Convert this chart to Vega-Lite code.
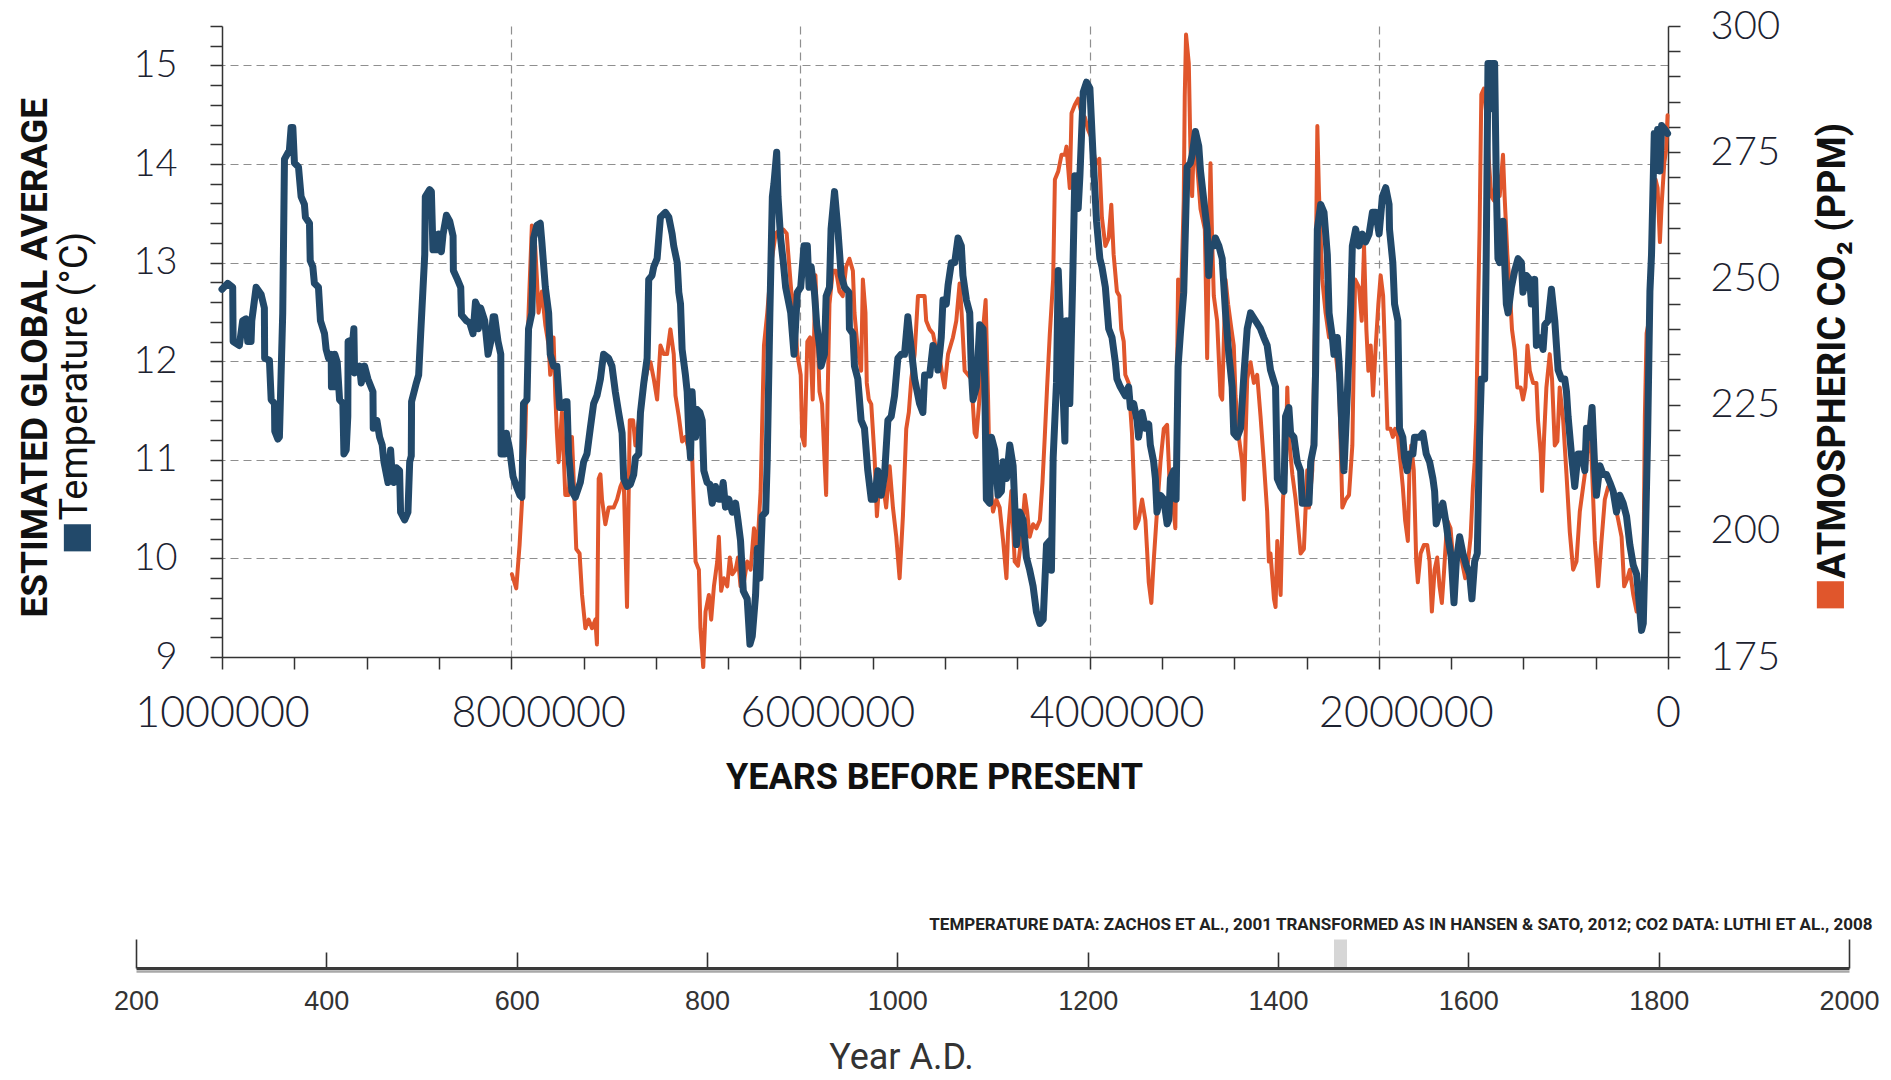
{
"$schema":"https://vega.github.io/schema/vega-lite/v6.json",
"width":1446,"height":631,
"autosize":{"type":"none"},
"padding":{"left":222,"top":26,"right":223,"bottom":423},
"background":"white",
"config":{"view":{"stroke":null}},
"datasets":{
"temp":[
{"ybp":1000000,"temp":12.73},{"ybp":996100,"temp":12.79},{"ybp":992600,"temp":12.75},{"ybp":992300,"temp":12.2},{"ybp":988000,"temp":12.16},{"ybp":985700,"temp":12.41},{"ybp":983400,"temp":12.43},{"ybp":982200,"temp":12.2},{"ybp":979900,"temp":12.2},{"ybp":979400,"temp":12.41},{"ybp":976400,"temp":12.75},{"ybp":973000,"temp":12.68},{"ybp":970700,"temp":12.54},{"ybp":970500,"temp":12.03},{"ybp":967200,"temp":12.01},{"ybp":966000,"temp":11.61},{"ybp":963700,"temp":11.57},{"ybp":963500,"temp":11.29},{"ybp":961400,"temp":11.21},{"ybp":960300,"temp":11.23},{"ybp":958000,"temp":12.49},{"ybp":956800,"temp":14.05},{"ybp":953400,"temp":14.14},{"ybp":952200,"temp":14.37},{"ybp":951000,"temp":14.37},{"ybp":949900,"temp":14.01},{"ybp":947100,"temp":13.97},{"ybp":945300,"temp":13.67},{"ybp":943000,"temp":13.59},{"ybp":942300,"temp":13.46},{"ybp":939500,"temp":13.4},{"ybp":939000,"temp":13.02},{"ybp":937200,"temp":12.96},{"ybp":936100,"temp":12.79},{"ybp":933300,"temp":12.75},{"ybp":931900,"temp":12.41},{"ybp":929100,"temp":12.28},{"ybp":928000,"temp":12.12},{"ybp":926300,"temp":12.03},{"ybp":924500,"temp":12.07},{"ybp":924300,"temp":11.74},{"ybp":922200,"temp":11.74},{"ybp":922000,"temp":12.07},{"ybp":920300,"temp":11.99},{"ybp":918700,"temp":11.61},{"ybp":916400,"temp":11.57},{"ybp":915700,"temp":11.06},{"ybp":914100,"temp":11.1},{"ybp":913000,"temp":11.44},{"ybp":912800,"temp":12.2},{"ybp":909500,"temp":12.22},{"ybp":908800,"temp":12.33},{"ybp":908300,"temp":11.88},{"ybp":904900,"temp":11.95},{"ybp":903700,"temp":11.78},{"ybp":901400,"temp":11.95},{"ybp":899100,"temp":11.82},{"ybp":895600,"temp":11.69},{"ybp":895400,"temp":11.32},{"ybp":892900,"temp":11.4},{"ybp":891000,"temp":11.23},{"ybp":889200,"temp":11.15},{"ybp":888000,"temp":10.98},{"ybp":885200,"temp":10.77},{"ybp":883400,"temp":11.1},{"ybp":882500,"temp":10.89},{"ybp":881100,"temp":10.77},{"ybp":879500,"temp":10.92},{"ybp":877200,"temp":10.89},{"ybp":876500,"temp":10.47},{"ybp":873700,"temp":10.39},{"ybp":871400,"temp":10.47},{"ybp":870200,"temp":10.98},{"ybp":869100,"temp":11.04},{"ybp":868900,"temp":11.59},{"ybp":865600,"temp":11.78},{"ybp":864000,"temp":11.86},{"ybp":862600,"temp":12.28},{"ybp":859800,"temp":13.08},{"ybp":859400,"temp":13.67},{"ybp":856400,"temp":13.74},{"ybp":855200,"temp":13.72},{"ybp":854100,"temp":13.13},{"ybp":850600,"temp":13.13},{"ybp":850100,"temp":13.29},{"ybp":848300,"temp":13.11},{"ybp":847100,"temp":13.29},{"ybp":844800,"temp":13.48},{"ybp":842500,"temp":13.42},{"ybp":840200,"temp":13.27},{"ybp":840000,"temp":12.92},{"ybp":837200,"temp":12.83},{"ybp":834900,"temp":12.75},{"ybp":834400,"temp":12.47},{"ybp":831000,"temp":12.41},{"ybp":828700,"temp":12.39},{"ybp":826400,"temp":12.28},{"ybp":824700,"temp":12.6},{"ybp":822900,"temp":12.54},{"ybp":822700,"temp":12.33},{"ybp":821100,"temp":12.54},{"ybp":818300,"temp":12.41},{"ybp":816000,"temp":12.07},{"ybp":814100,"temp":12.2},{"ybp":812500,"temp":12.45},{"ybp":811400,"temp":12.45},{"ybp":809100,"temp":12.2},{"ybp":807200,"temp":12.07},{"ybp":807000,"temp":11.06},{"ybp":804400,"temp":11.06},{"ybp":803300,"temp":11.27},{"ybp":801000,"temp":11.1},{"ybp":798700,"temp":10.83},{"ybp":796400,"temp":10.73},{"ybp":794000,"temp":10.64},
{"ybp":792600,"temp":10.62},{"ybp":791500,"temp":11.57},{"ybp":789100,"temp":11.61},{"ybp":788000,"temp":12.33},{"ybp":785700,"temp":12.49},{"ybp":784500,"temp":13.25},{"ybp":782200,"temp":13.38},{"ybp":779900,"temp":13.4},{"ybp":778800,"temp":13.21},{"ybp":776400,"temp":12.75},{"ybp":774100,"temp":12.49},{"ybp":773000,"temp":12.07},{"ybp":770700,"temp":11.95},{"ybp":768400,"temp":11.95},{"ybp":766500,"temp":11.53},{"ybp":763700,"temp":11.53},{"ybp":762600,"temp":11.59},{"ybp":761400,"temp":11.59},{"ybp":760300,"temp":11.06},{"ybp":758000,"temp":10.68},{"ybp":755700,"temp":10.62},{"ybp":752200,"temp":10.77},{"ybp":749900,"temp":10.98},{"ybp":747600,"temp":11.06},{"ybp":745300,"temp":11.32},{"ybp":743000,"temp":11.57},{"ybp":740700,"temp":11.65},{"ybp":738300,"temp":11.82},{"ybp":737200,"temp":11.95},{"ybp":736100,"temp":12.07},{"ybp":732600,"temp":12.03},{"ybp":730300,"temp":11.95},{"ybp":728000,"temp":11.69},{"ybp":725700,"temp":11.48},{"ybp":723300,"temp":11.27},{"ybp":722200,"temp":10.81},{"ybp":719900,"temp":10.73},{"ybp":717600,"temp":10.75},{"ybp":715300,"temp":10.85},{"ybp":714100,"temp":11.02},{"ybp":711800,"temp":11.06},{"ybp":710600,"temp":11.48},{"ybp":708300,"temp":11.78},{"ybp":706000,"temp":12.03},{"ybp":704900,"temp":12.83},{"ybp":702600,"temp":12.87},{"ybp":701400,"temp":12.96},{"ybp":699100,"temp":13.04},{"ybp":696800,"temp":13.46},{"ybp":693300,"temp":13.51},{"ybp":691000,"temp":13.46},{"ybp":688700,"temp":13.29},{"ybp":687600,"temp":13.17},{"ybp":685200,"temp":13.0},{"ybp":684100,"temp":12.7},{"ybp":682900,"temp":12.58},{"ybp":681800,"temp":12.12},{"ybp":679500,"temp":11.86},{"ybp":678300,"temp":11.69},{"ybp":677200,"temp":11.27},{"ybp":676000,"temp":11.02},{"ybp":674900,"temp":11.69},{"ybp":673700,"temp":11.36},{"ybp":672500,"temp":11.23},{"ybp":671400,"temp":11.51},{"ybp":669500,"temp":11.48},{"ybp":667900,"temp":11.4},{"ybp":666800,"temp":10.89},{"ybp":664500,"temp":10.77},{"ybp":662600,"temp":10.75},{"ybp":661000,"temp":10.56},{"ybp":658700,"temp":10.73},{"ybp":656400,"temp":10.6},{"ybp":655200,"temp":10.6},{"ybp":653400,"temp":10.77},{"ybp":651800,"temp":10.52},{"ybp":649500,"temp":10.6},{"ybp":647100,"temp":10.47},{"ybp":644800,"temp":10.56},{"ybp":643200,"temp":10.39},{"ybp":641400,"temp":10.18},{"ybp":639500,"temp":9.67},{"ybp":636800,"temp":9.59},{"ybp":634900,"temp":9.13},{"ybp":633300,"temp":9.21},{"ybp":631000,"temp":9.63},{"ybp":629800,"temp":10.1},{"ybp":628000,"temp":9.8},{"ybp":626400,"temp":10.43},{"ybp":624000,"temp":10.47},{"ybp":622900,"temp":11.02},{"ybp":621100,"temp":12.49},{"ybp":619400,"temp":13.67},{"ybp":618300,"temp":13.8},{"ybp":616400,"temp":14.12},{"ybp":615500,"temp":13.67},{"ybp":613700,"temp":13.25},{"ybp":611800,"temp":13.0},{"ybp":610200,"temp":12.75},{"ybp":606700,"temp":12.49},{"ybp":604400,"temp":12.07},{"ybp":602100,"temp":12.7},{"ybp":599800,"temp":12.75},{"ybp":597500,"temp":13.17},{"ybp":595200,"temp":13.17},{"ybp":594000,"temp":12.75},
{"ybp":592600,"temp":12.96},{"ybp":590300,"temp":12.7},{"ybp":588700,"temp":12.37},{"ybp":586800,"temp":12.16},{"ybp":585700,"temp":11.95},{"ybp":583400,"temp":12.07},{"ybp":582200,"temp":12.66},{"ybp":579900,"temp":12.75},{"ybp":578800,"temp":13.34},{"ybp":576400,"temp":13.72},{"ybp":574100,"temp":13.34},{"ybp":571800,"temp":12.87},{"ybp":569500,"temp":12.75},{"ybp":566500,"temp":12.7},{"ybp":566100,"temp":12.33},{"ybp":563700,"temp":12.28},{"ybp":562600,"temp":11.95},{"ybp":560300,"temp":11.82},{"ybp":558000,"temp":11.4},{"ybp":555700,"temp":11.32},{"ybp":553400,"temp":10.89},{"ybp":551000,"temp":10.6},{"ybp":548700,"temp":10.6},{"ybp":546400,"temp":10.89},{"ybp":544100,"temp":10.64},{"ybp":541800,"temp":10.85},{"ybp":539500,"temp":11.4},{"ybp":537200,"temp":11.44},{"ybp":534900,"temp":11.65},{"ybp":532600,"temp":12.03},{"ybp":530300,"temp":12.07},{"ybp":528000,"temp":12.07},{"ybp":525700,"temp":12.45},{"ybp":523300,"temp":12.12},{"ybp":521000,"temp":11.82},{"ybp":517600,"temp":11.57},{"ybp":515300,"temp":11.48},{"ybp":514100,"temp":11.86},{"ybp":510600,"temp":11.86},{"ybp":508300,"temp":12.16},{"ybp":506000,"temp":12.07},{"ybp":504900,"temp":11.91},{"ybp":502600,"temp":12.24},{"ybp":501400,"temp":12.62},{"ybp":499100,"temp":12.58},{"ybp":497900,"temp":12.77},{"ybp":495600,"temp":13.0},{"ybp":493300,"temp":13.0},{"ybp":491000,"temp":13.25},{"ybp":488700,"temp":13.17},{"ybp":487600,"temp":12.87},{"ybp":485200,"temp":12.62},{"ybp":482900,"temp":12.49},{"ybp":481800,"temp":11.91},{"ybp":480600,"temp":11.61},{"ybp":478300,"temp":11.74},{"ybp":476000,"temp":12.37},{"ybp":473700,"temp":12.33},{"ybp":472500,"temp":11.78},{"ybp":471400,"temp":10.6},{"ybp":469100,"temp":10.56},{"ybp":467900,"temp":11.23},{"ybp":465600,"temp":11.1},{"ybp":463300,"temp":10.64},{"ybp":461000,"temp":10.68},{"ybp":459800,"temp":10.98},{"ybp":457500,"temp":10.81},{"ybp":455200,"temp":11.15},{"ybp":452900,"temp":10.94},{"ybp":450600,"temp":10.14},{"ybp":448300,"temp":10.47},{"ybp":446000,"temp":10.39},{"ybp":443700,"temp":10.01},{"ybp":441400,"temp":9.88},{"ybp":439100,"temp":9.72},{"ybp":436800,"temp":9.46},{"ybp":434400,"temp":9.34},{"ybp":432100,"temp":9.38},{"ybp":429800,"temp":10.14},{"ybp":427500,"temp":10.18},{"ybp":426400,"temp":9.88},{"ybp":425200,"temp":11.02},{"ybp":422900,"temp":11.78},{"ybp":421700,"temp":12.92},{"ybp":419400,"temp":12.07},{"ybp":417100,"temp":11.19},{"ybp":416000,"temp":12.41},{"ybp":413700,"temp":11.57},{"ybp":411800,"temp":12.75},{"ybp":410200,"temp":13.88},{"ybp":407900,"temp":13.55},{"ybp":406700,"temp":13.88},{"ybp":404400,"temp":14.73},{"ybp":402100,"temp":14.83},{"ybp":399800,"temp":14.77},{"ybp":397500,"temp":14.05},{"ybp":395200,"temp":13.42},{"ybp":392900,"temp":13.04},
{"ybp":391500,"temp":12.96},{"ybp":389100,"temp":12.75},{"ybp":386800,"temp":12.33},{"ybp":384500,"temp":12.24},{"ybp":382200,"temp":11.99},{"ybp":381100,"temp":11.82},{"ybp":378800,"temp":11.74},{"ybp":375300,"temp":11.65},{"ybp":373000,"temp":11.74},{"ybp":371800,"temp":11.53},{"ybp":369500,"temp":11.57},{"ybp":367200,"temp":11.4},{"ybp":366100,"temp":11.23},{"ybp":363700,"temp":11.48},{"ybp":361400,"temp":11.32},{"ybp":359100,"temp":11.36},{"ybp":358000,"temp":11.15},{"ybp":355700,"temp":10.98},{"ybp":354500,"temp":10.81},{"ybp":353400,"temp":10.47},{"ybp":351000,"temp":10.64},{"ybp":348700,"temp":10.6},{"ybp":346400,"temp":10.35},{"ybp":345300,"temp":10.39},{"ybp":344100,"temp":10.81},{"ybp":341800,"temp":10.89},{"ybp":340200,"temp":10.6},{"ybp":338800,"temp":11.95},{"ybp":337200,"temp":12.28},{"ybp":334900,"temp":12.7},{"ybp":332600,"temp":13.97},{"ybp":330300,"temp":14.01},{"ybp":329100,"temp":14.09},{"ybp":326800,"temp":14.33},{"ybp":324500,"temp":14.18},{"ybp":323300,"temp":13.93},{"ybp":321000,"temp":13.63},{"ybp":318700,"temp":13.34},{"ybp":317600,"temp":12.87},{"ybp":316400,"temp":13.17},{"ybp":314100,"temp":13.17},{"ybp":313000,"temp":13.25},{"ybp":310600,"temp":13.17},{"ybp":308300,"temp":13.04},{"ybp":306000,"temp":12.49},{"ybp":303700,"temp":12.07},{"ybp":301400,"temp":11.74},{"ybp":300300,"temp":11.27},{"ybp":297900,"temp":11.23},{"ybp":295600,"temp":11.32},{"ybp":293300,"temp":11.86},{"ybp":291000,"temp":12.33},{"ybp":288700,"temp":12.49},{"ybp":285200,"temp":12.41},{"ybp":281800,"temp":12.33},{"ybp":279500,"temp":12.24},{"ybp":277200,"temp":12.16},{"ybp":274900,"temp":11.91},{"ybp":271400,"temp":11.74},{"ybp":270200,"temp":10.81},{"ybp":267900,"temp":10.73},{"ybp":265600,"temp":10.68},{"ybp":264500,"temp":11.44},{"ybp":262200,"temp":11.53},{"ybp":261000,"temp":11.27},{"ybp":258700,"temp":11.23},{"ybp":256400,"temp":10.98},{"ybp":254100,"temp":10.89},{"ybp":252900,"temp":10.56},{"ybp":250600,"temp":10.56},{"ybp":248300,"temp":10.56},{"ybp":247100,"temp":10.98},{"ybp":244800,"temp":11.15},{"ybp":243700,"temp":11.91},{"ybp":242500,"temp":13.34},{"ybp":240200,"temp":13.59},{"ybp":237900,"temp":13.51},{"ybp":235600,"temp":13.08},{"ybp":234400,"temp":12.49},{"ybp":232100,"temp":12.24},{"ybp":231000,"temp":12.07},{"ybp":228700,"temp":12.24},{"ybp":227500,"temp":11.99},{"ybp":225200,"temp":11.23},{"ybp":224100,"temp":10.89},{"ybp":221700,"temp":11.69},{"ybp":219400,"temp":12.58},{"ybp":218300,"temp":13.17},{"ybp":216000,"temp":13.34},{"ybp":213700,"temp":13.17},{"ybp":211400,"temp":13.29},{"ybp":209100,"temp":13.21},{"ybp":206700,"temp":13.29},{"ybp":204400,"temp":13.51},{"ybp":202100,"temp":13.51},{"ybp":199800,"temp":13.29},{"ybp":197500,"temp":13.67},{"ybp":195200,"temp":13.76},{"ybp":192900,"temp":13.59},
{"ybp":192600,"temp":13.34},{"ybp":190300,"temp":13.0},{"ybp":189100,"temp":12.58},{"ybp":186800,"temp":12.41},{"ybp":185700,"temp":11.32},{"ybp":183400,"temp":11.23},{"ybp":182200,"temp":11.02},{"ybp":180400,"temp":10.89},{"ybp":178800,"temp":11.06},{"ybp":176400,"temp":11.06},{"ybp":175300,"temp":11.23},{"ybp":171800,"temp":11.23},{"ybp":169500,"temp":11.27},{"ybp":167200,"temp":11.06},{"ybp":164900,"temp":10.98},{"ybp":162600,"temp":10.81},{"ybp":161400,"temp":10.68},{"ybp":160300,"temp":10.35},{"ybp":158000,"temp":10.47},{"ybp":155700,"temp":10.56},{"ybp":153400,"temp":10.35},{"ybp":152200,"temp":10.22},{"ybp":149900,"temp":10.01},{"ybp":148000,"temp":9.55},{"ybp":146400,"temp":9.97},{"ybp":144100,"temp":10.22},{"ybp":141800,"temp":10.05},{"ybp":139500,"temp":9.93},{"ybp":137200,"temp":9.84},{"ybp":135600,"temp":9.59},{"ybp":133700,"temp":9.97},{"ybp":131900,"temp":10.05},{"ybp":130300,"temp":11.23},{"ybp":129100,"temp":11.82},{"ybp":126800,"temp":11.82},{"ybp":125700,"temp":13.08},{"ybp":124500,"temp":15.02},{"ybp":122200,"temp":15.02},{"ybp":121000,"temp":14.56},{"ybp":119900,"temp":15.02},{"ybp":118700,"temp":13.76},{"ybp":117600,"temp":13.04},{"ybp":116400,"temp":13.0},{"ybp":114100,"temp":13.42},{"ybp":111800,"temp":12.58},{"ybp":110600,"temp":12.49},{"ybp":108300,"temp":12.75},{"ybp":106000,"temp":12.92},{"ybp":103700,"temp":13.04},{"ybp":101400,"temp":13.0},{"ybp":100300,"temp":12.7},{"ybp":97900,"temp":12.87},{"ybp":95600,"temp":12.83},{"ybp":94500,"temp":12.58},{"ybp":92200,"temp":12.83},{"ybp":91000,"temp":12.16},{"ybp":88700,"temp":12.24},{"ybp":86400,"temp":12.12},{"ybp":85200,"temp":12.37},{"ybp":82900,"temp":12.41},{"ybp":80600,"temp":12.73},{"ybp":78300,"temp":12.41},{"ybp":76000,"temp":11.91},{"ybp":73700,"temp":11.82},{"ybp":71400,"temp":11.82},{"ybp":70200,"temp":11.69},{"ybp":69100,"temp":11.44},{"ybp":66800,"temp":11.06},{"ybp":64500,"temp":10.73},{"ybp":62200,"temp":11.06},{"ybp":59800,"temp":11.06},{"ybp":57500,"temp":10.89},{"ybp":56400,"temp":11.32},{"ybp":54100,"temp":11.23},{"ybp":52500,"temp":11.53},{"ybp":50600,"temp":10.89},{"ybp":49500,"temp":10.64},{"ybp":47100,"temp":10.94},{"ybp":44800,"temp":10.85},{"ybp":42500,"temp":10.85},{"ybp":40200,"temp":10.77},{"ybp":37900,"temp":10.68},{"ybp":35600,"temp":10.47},{"ybp":33300,"temp":10.64},{"ybp":31000,"temp":10.56},{"ybp":28700,"temp":10.43},{"ybp":26400,"temp":10.14},{"ybp":24000,"temp":9.93},{"ybp":21700,"temp":9.84},{"ybp":19400,"temp":9.46},{"ybp":18300,"temp":9.27},{"ybp":17100,"temp":9.34},{"ybp":16000,"temp":9.97},{"ybp":14100,"temp":11.23},{"ybp":12500,"temp":12.71},{"ybp":11400,"temp":13.08},{"ybp":9500,"temp":14.31},{"ybp":8600,"temp":13.93},{"ybp":7200,"temp":14.35},{"ybp":5600,"temp":13.93},{"ybp":4400,"temp":14.39},{"ybp":2100,"temp":14.35},{"ybp":300,"temp":14.31}
],
"co2":[
{"ybp":799500,"co2":191.4},{"ybp":796500,"co2":188.6},{"ybp":794200,"co2":197.2},{"ybp":792600,"co2":205.4},{"ybp":790300,"co2":218.6},{"ybp":788000,"co2":243.2},{"ybp":785700,"co2":260.5},{"ybp":783400,"co2":256.4},{"ybp":782200,"co2":249.8},{"ybp":781100,"co2":243.2},{"ybp":778800,"co2":247.4},{"ybp":776400,"co2":240.8},{"ybp":774100,"co2":236.7},{"ybp":773000,"co2":230.9},{"ybp":770700,"co2":238.3},{"ybp":769500,"co2":226.8},{"ybp":768400,"co2":219.4},{"ybp":767200,"co2":213.6},{"ybp":764900,"co2":223.5},{"ybp":762600,"co2":207.1},{"ybp":760300,"co2":207.1},{"ybp":758000,"co2":218.6},{"ybp":756800,"co2":210.3},{"ybp":755000,"co2":196.4},{"ybp":752700,"co2":195.5},{"ybp":751000,"co2":187.3},{"ybp":748700,"co2":180.7},{"ybp":746400,"co2":182.4},{"ybp":744100,"co2":180.7},{"ybp":741800,"co2":182.4},{"ybp":740700,"co2":177.5},{"ybp":739500,"co2":210.3},{"ybp":738300,"co2":211.2},{"ybp":737200,"co2":206.2},{"ybp":734900,"co2":201.3},{"ybp":732600,"co2":204.6},{"ybp":729100,"co2":204.6},{"ybp":726800,"co2":206.2},{"ybp":724500,"co2":208.7},{"ybp":722200,"co2":210.3},{"ybp":719900,"co2":184.9},{"ybp":718000,"co2":221.9},{"ybp":715700,"co2":221.9},{"ybp":714100,"co2":216.9},{"ybp":710600,"co2":224.3},{"ybp":708300,"co2":228.4},{"ybp":706000,"co2":231.7},{"ybp":703700,"co2":233.4},{"ybp":701400,"co2":230.1},{"ybp":699100,"co2":226.0},{"ybp":696800,"co2":236.7},{"ybp":694500,"co2":235.0},{"ybp":692200,"co2":235.0},{"ybp":689900,"co2":239.9},{"ybp":687600,"co2":235.0},{"ybp":686400,"co2":226.8},{"ybp":684100,"co2":222.7},{"ybp":681800,"co2":217.7},{"ybp":679500,"co2":218.6},{"ybp":677200,"co2":216.1},{"ybp":674900,"co2":215.3},{"ybp":672500,"co2":193.9},{"ybp":670200,"co2":192.3},{"ybp":669100,"co2":180.7},{"ybp":667200,"co2":173.0},{"ybp":665600,"co2":184.0},{"ybp":663300,"co2":187.3},{"ybp":661700,"co2":182.4},{"ybp":659800,"co2":189.0},{"ybp":657500,"co2":193.9},{"ybp":656400,"co2":198.8},{"ybp":654800,"co2":188.1},{"ybp":652900,"co2":190.6},{"ybp":650600,"co2":189.0},{"ybp":648800,"co2":194.7},{"ybp":647100,"co2":191.4},{"ybp":644800,"co2":192.3},{"ybp":643200,"co2":194.7},{"ybp":641400,"co2":189.0},{"ybp":639100,"co2":189.8},{"ybp":636800,"co2":193.9},{"ybp":634400,"co2":192.3},{"ybp":632100,"co2":200.5},{"ybp":629800,"co2":196.4},{"ybp":627500,"co2":207.9},{"ybp":625200,"co2":236.7},{"ybp":622900,"co2":243.2},{"ybp":620100,"co2":253.1},{"ybp":617100,"co2":258.9},{"ybp":614100,"co2":259.7},{"ybp":611800,"co2":259.7},{"ybp":609500,"co2":258.9},{"ybp":607900,"co2":253.1},{"ybp":606300,"co2":247.4},{"ybp":604400,"co2":244.9},{"ybp":602100,"co2":235.0},{"ybp":599800,"co2":230.9},{"ybp":598700,"co2":218.6},{"ybp":597100,"co2":216.9},{"ybp":595200,"co2":237.5},{"ybp":593300,"co2":238.3},
{"ybp":591500,"co2":226.0},{"ybp":589600,"co2":250.6},{"ybp":588000,"co2":237.5},{"ybp":586800,"co2":227.6},{"ybp":585000,"co2":225.1},{"ybp":583400,"co2":214.5},{"ybp":582200,"co2":207.1},{"ybp":581100,"co2":227.6},{"ybp":579900,"co2":244.9},{"ybp":577600,"co2":251.5},{"ybp":575300,"co2":251.5},{"ybp":573000,"co2":247.4},{"ybp":570700,"co2":246.5},{"ybp":568400,"co2":252.3},{"ybp":566100,"co2":253.9},{"ybp":563700,"co2":251.5},{"ybp":562600,"co2":243.2},{"ybp":560300,"co2":235.8},{"ybp":558000,"co2":231.7},{"ybp":556800,"co2":249.8},{"ybp":555000,"co2":243.2},{"ybp":554100,"co2":229.3},{"ybp":552700,"co2":226.0},{"ybp":551000,"co2":225.1},{"ybp":548700,"co2":214.5},{"ybp":547100,"co2":202.9},{"ybp":545300,"co2":210.3},{"ybp":543000,"co2":209.5},{"ybp":540700,"co2":204.6},{"ybp":538300,"co2":212.8},{"ybp":536000,"co2":204.6},{"ybp":533700,"co2":198.8},{"ybp":531400,"co2":190.6},{"ybp":529100,"co2":202.9},{"ybp":526800,"co2":220.2},{"ybp":525000,"co2":223.5},{"ybp":523300,"co2":230.1},{"ybp":521000,"co2":235.0},{"ybp":518700,"co2":246.5},{"ybp":516400,"co2":246.5},{"ybp":514100,"co2":246.5},{"ybp":513000,"co2":241.6},{"ybp":510600,"co2":239.9},{"ybp":508300,"co2":239.1},{"ybp":506000,"co2":235.8},{"ybp":503700,"co2":234.2},{"ybp":501400,"co2":230.1},{"ybp":500300,"co2":228.4},{"ybp":497900,"co2":235.0},{"ybp":494500,"co2":238.3},{"ybp":492200,"co2":241.6},{"ybp":489900,"co2":249.0},{"ybp":488700,"co2":244.1},{"ybp":487600,"co2":238.3},{"ybp":486400,"co2":231.7},{"ybp":484100,"co2":230.9},{"ybp":481800,"co2":230.1},{"ybp":479500,"co2":219.4},{"ybp":478300,"co2":218.6},{"ybp":476000,"co2":226.8},{"ybp":473700,"co2":239.9},{"ybp":471900,"co2":245.7},{"ybp":470200,"co2":226.0},{"ybp":469100,"co2":210.3},{"ybp":466800,"co2":203.8},{"ybp":464500,"co2":206.2},{"ybp":462200,"co2":204.6},{"ybp":459800,"co2":198.0},{"ybp":457500,"co2":190.6},{"ybp":456400,"co2":199.7},{"ybp":454100,"co2":207.9},{"ybp":451800,"co2":193.9},{"ybp":449500,"co2":193.1},{"ybp":447100,"co2":198.8},{"ybp":444800,"co2":207.1},{"ybp":443200,"co2":203.8},{"ybp":441400,"co2":198.8},{"ybp":439100,"co2":201.3},{"ybp":436800,"co2":200.5},{"ybp":434400,"co2":202.1},{"ybp":432600,"co2":209.5},{"ybp":431000,"co2":218.6},{"ybp":429400,"co2":228.4},{"ybp":427500,"co2":239.1},{"ybp":425200,"co2":249.8},{"ybp":424000,"co2":269.6},{"ybp":421700,"co2":271.2},{"ybp":419400,"co2":274.5},{"ybp":417100,"co2":274.5},{"ybp":416000,"co2":276.1},{"ybp":413700,"co2":267.9},{"ybp":412500,"co2":282.7},{"ybp":410200,"co2":284.4},{"ybp":407900,"co2":285.6},{"ybp":405600,"co2":282.7},{"ybp":403300,"co2":281.9},{"ybp":401000,"co2":279.4},{"ybp":398700,"co2":277.8},{"ybp":396400,"co2":273.7},{"ybp":394100,"co2":272.8},
{"ybp":393300,"co2":273.7},{"ybp":391500,"co2":262.1},{"ybp":389100,"co2":256.4},{"ybp":386800,"co2":258.0},{"ybp":385000,"co2":264.6},{"ybp":383400,"co2":254.8},{"ybp":381100,"co2":247.4},{"ybp":379400,"co2":246.5},{"ybp":378100,"co2":239.9},{"ybp":376400,"co2":237.5},{"ybp":375300,"co2":230.9},{"ybp":373000,"co2":229.3},{"ybp":370700,"co2":219.4},{"ybp":369500,"co2":210.3},{"ybp":368400,"co2":200.5},{"ybp":366100,"co2":202.1},{"ybp":363700,"co2":206.2},{"ybp":361400,"co2":202.1},{"ybp":360300,"co2":196.4},{"ybp":359100,"co2":189.8},{"ybp":357300,"co2":185.7},{"ybp":355700,"co2":193.9},{"ybp":353400,"co2":203.8},{"ybp":351000,"co2":213.6},{"ybp":348700,"co2":220.2},{"ybp":346400,"co2":221.0},{"ybp":344800,"co2":210.3},{"ybp":342500,"co2":206.2},{"ybp":340700,"co2":200.5},{"ybp":338800,"co2":249.8},{"ybp":337200,"co2":241.6},{"ybp":334900,"co2":265.4},{"ybp":334200,"co2":286.0},{"ybp":333300,"co2":298.3},{"ybp":331400,"co2":292.6},{"ybp":330300,"co2":276.1},{"ybp":329100,"co2":266.3},{"ybp":328000,"co2":276.1},{"ybp":325700,"co2":272.8},{"ybp":323300,"co2":263.8},{"ybp":320300,"co2":259.7},{"ybp":318700,"co2":234.2},{"ybp":317600,"co2":254.8},{"ybp":316400,"co2":272.8},{"ybp":315300,"co2":258.0},{"ybp":314100,"co2":246.5},{"ybp":311800,"co2":241.6},{"ybp":309500,"co2":226.8},{"ybp":308300,"co2":226.0},{"ybp":306000,"co2":249.8},{"ybp":304200,"co2":244.9},{"ybp":301900,"co2":239.9},{"ybp":300300,"co2":236.7},{"ybp":299100,"co2":226.8},{"ybp":296800,"co2":218.6},{"ybp":294500,"co2":213.6},{"ybp":293300,"co2":206.2},{"ybp":291000,"co2":230.1},{"ybp":288700,"co2":233.4},{"ybp":286400,"co2":229.3},{"ybp":284100,"co2":230.9},{"ybp":281800,"co2":222.7},{"ybp":279500,"co2":213.6},{"ybp":277200,"co2":203.8},{"ybp":276000,"co2":193.9},{"ybp":274900,"co2":195.5},{"ybp":272500,"co2":186.5},{"ybp":271400,"co2":184.9},{"ybp":270200,"co2":198.0},{"ybp":267900,"co2":187.3},{"ybp":266300,"co2":206.2},{"ybp":264500,"co2":212.0},{"ybp":263300,"co2":228.4},{"ybp":262200,"co2":218.6},{"ybp":259800,"co2":211.2},{"ybp":257500,"co2":206.2},{"ybp":254100,"co2":195.5},{"ybp":251800,"co2":196.4},{"ybp":249500,"co2":212.0},{"ybp":248300,"co2":204.6},{"ybp":246000,"co2":212.0},{"ybp":243700,"co2":248.2},{"ybp":242500,"co2":280.2},{"ybp":241400,"co2":267.1},{"ybp":239100,"co2":249.8},{"ybp":236800,"co2":243.2},{"ybp":234400,"co2":238.3},{"ybp":232100,"co2":238.3},{"ybp":229800,"co2":235.0},{"ybp":227500,"co2":229.3},{"ybp":225200,"co2":204.6},{"ybp":222900,"co2":206.2},{"ybp":220600,"co2":207.1},{"ybp":218300,"co2":216.9},{"ybp":216400,"co2":249.8},{"ybp":213700,"co2":248.2},{"ybp":211800,"co2":241.6},{"ybp":210200,"co2":256.4},{"ybp":208600,"co2":239.9},{"ybp":207200,"co2":231.7},{"ybp":205600,"co2":236.7},{"ybp":204000,"co2":226.8},{"ybp":202100,"co2":236.7},{"ybp":200300,"co2":244.9},{"ybp":198700,"co2":250.6},{"ybp":197000,"co2":246.5},{"ybp":195200,"co2":230.9},{"ybp":194000,"co2":220.2},
{"ybp":191900,"co2":220.2},{"ybp":190300,"co2":218.6},{"ybp":188700,"co2":220.2},{"ybp":186800,"co2":218.6},{"ybp":185000,"co2":213.6},{"ybp":183400,"co2":208.7},{"ybp":181800,"co2":202.1},{"ybp":179900,"co2":198.0},{"ybp":178800,"co2":212.0},{"ybp":177600,"co2":216.9},{"ybp":175800,"co2":212.0},{"ybp":174100,"co2":193.9},{"ybp":173000,"co2":189.8},{"ybp":171100,"co2":195.5},{"ybp":168800,"co2":197.2},{"ybp":166500,"co2":197.2},{"ybp":164900,"co2":193.9},{"ybp":163300,"co2":184.0},{"ybp":161400,"co2":192.3},{"ybp":159600,"co2":194.7},{"ybp":158000,"co2":189.0},{"ybp":156400,"co2":185.7},{"ybp":155000,"co2":191.4},{"ybp":152700,"co2":202.1},{"ybp":150400,"co2":200.5},{"ybp":148700,"co2":194.7},{"ybp":147100,"co2":191.4},{"ybp":145300,"co2":195.5},{"ybp":142500,"co2":193.9},{"ybp":140200,"co2":190.6},{"ybp":138300,"co2":193.9},{"ybp":136500,"co2":198.8},{"ybp":134900,"co2":208.7},{"ybp":133700,"co2":213.6},{"ybp":132600,"co2":221.9},{"ybp":131400,"co2":243.2},{"ybp":130300,"co2":259.7},{"ybp":129100,"co2":286.4},{"ybp":127300,"co2":287.6},{"ybp":125700,"co2":282.7},{"ybp":124000,"co2":273.7},{"ybp":122200,"co2":266.3},{"ybp":120300,"co2":265.4},{"ybp":118700,"co2":272.0},{"ybp":116400,"co2":266.3},{"ybp":114100,"co2":274.5},{"ybp":113000,"co2":266.3},{"ybp":111100,"co2":254.8},{"ybp":109500,"co2":248.2},{"ybp":107900,"co2":239.9},{"ybp":106000,"co2":235.8},{"ybp":104200,"co2":228.4},{"ybp":101900,"co2":228.4},{"ybp":100300,"co2":226.0},{"ybp":98600,"co2":228.4},{"ybp":97200,"co2":236.7},{"ybp":95600,"co2":231.7},{"ybp":93300,"co2":229.3},{"ybp":91000,"co2":229.3},{"ybp":89900,"co2":221.9},{"ybp":88000,"co2":215.3},{"ybp":87100,"co2":207.9},{"ybp":85700,"co2":218.6},{"ybp":84100,"co2":228.4},{"ybp":81800,"co2":235.0},{"ybp":80200,"co2":230.1},{"ybp":78300,"co2":216.9},{"ybp":76500,"co2":217.7},{"ybp":74900,"co2":228.4},{"ybp":72500,"co2":221.9},{"ybp":70200,"co2":211.2},{"ybp":67900,"co2":199.7},{"ybp":65600,"co2":192.3},{"ybp":63300,"co2":193.9},{"ybp":61000,"co2":203.8},{"ybp":58700,"co2":208.7},{"ybp":56400,"co2":213.6},{"ybp":54100,"co2":221.9},{"ybp":52500,"co2":212.0},{"ybp":50600,"co2":198.0},{"ybp":48300,"co2":189.0},{"ybp":46000,"co2":198.0},{"ybp":43700,"co2":206.2},{"ybp":41400,"co2":208.7},{"ybp":39100,"co2":208.7},{"ybp":36800,"co2":205.4},{"ybp":34400,"co2":202.1},{"ybp":32100,"co2":198.8},{"ybp":30300,"co2":189.0},{"ybp":28000,"co2":190.6},{"ybp":26400,"co2":192.3},{"ybp":24000,"co2":187.3},{"ybp":21700,"co2":184.0},{"ybp":19400,"co2":187.3},{"ybp":17100,"co2":189.0},{"ybp":16000,"co2":222.7},{"ybp":14800,"co2":239.1},{"ybp":13200,"co2":241.6},{"ybp":11400,"co2":251.5},{"ybp":10200,"co2":267.1},{"ybp":8600,"co2":269.6},{"ybp":7200,"co2":267.9},{"ybp":5600,"co2":257.2},{"ybp":4400,"co2":264.6},{"ybp":2600,"co2":272.8},{"ybp":1400,"co2":275.3},{"ybp":300,"co2":282.3}
],
"ad":[{"year":200},{"year":2000}]
},
"resolve":{"scale":{"x":"independent","y":"independent"},"axis":{"x":"independent","y":"independent"}},
"layer":[
{
"data":{"name":"co2"},
"mark":{"type":"line","color":"#e0562c","strokeWidth":4,"strokeJoin":"round","strokeCap":"round"},
"encoding":{
"x":{"field":"ybp","type":"quantitative","scale":{"domain":[0,1000000],"reverse":true,"nice":false,"zero":false},"axis":null},
"y":{"field":"co2","type":"quantitative","scale":{"domain":[175,300],"nice":false,"zero":false},
"axis":{"orient":"right","values":[175,180,185,190,195,200,205,210,215,220,225,230,235,240,245,250,255,260,265,270,275,280,285,290,295,300],
"labelExpr":"datum.value % 25 === 0 ? format(datum.value, 'd') : ''","labelOverlap":false,"labelFlush":false,
"labelFont":"Lato","labelFontSize":40,"labelFontWeight":300,"labelColor":"#1c2230","labelPadding":30,
"tickSize":12,"tickColor":"#333333","tickWidth":1.5,"domainColor":"#333333","domainWidth":1.5,"grid":false,
"title":"ATMOSPHERIC CO\u2082 (PPM)","titleFont":"Roboto","titleFontSize":38,"titleFontWeight":"bold","titleColor":"#111111",
"titleAngle":270,"titleAlign":"left","titleBaseline":"alphabetic","titleX":176,"titleY":552}}
}
},
{
"data":{"name":"co2"},
"mark":{"type":"line","opacity":0},
"encoding":{
"x":{"field":"ybp","type":"quantitative","scale":{"domain":[0,1000000],"reverse":true,"nice":false,"zero":false},"axis":null},
"y":{"field":"co2","type":"quantitative","scale":{"domain":[175,300],"nice":false,"zero":false},
"axis":{"orient":"right","domain":false,"ticks":false,"labels":false,"grid":false,
"title":"\u25a0","titleFont":"Roboto","titleFontSize":56,"titleFontWeight":"normal","titleColor":"#e0562c",
"titleAngle":270,"titleAlign":"left","titleBaseline":"alphabetic","titleX":178,"titleY":585}}
}
},
{
"data":{"name":"temp"},
"mark":{"type":"line","color":"#22496a","strokeWidth":7,"strokeJoin":"round","strokeCap":"round"},
"encoding":{
"x":{"field":"ybp","type":"quantitative","scale":{"domain":[0,1000000],"reverse":true,"nice":false,"zero":false},
"axis":{"orient":"bottom","values":[0,50000,100000,150000,200000,250000,300000,350000,400000,450000,500000,550000,600000,650000,700000,750000,800000,850000,900000,950000,1000000],
"labelExpr":"datum.value === 1000000 ? '1000000' : datum.value === 800000 ? '8000000' : datum.value === 600000 ? '6000000' : datum.value === 400000 ? '4000000' : datum.value === 200000 ? '2000000' : datum.value === 0 ? '0' : ''",
"labelFlush":false,"labelOverlap":false,"labelFont":"Lato","labelFontSize":43,"labelFontWeight":300,"labelColor":"#1c2230","labelPadding":23,
"labelOffset":{"condition":{"test":"datum.value > 0 && datum.value < 1000000","value":27},"value":0},
"tickSize":12,"tickColor":"#333333","tickWidth":1.5,"domainColor":"#333333","domainWidth":1.5,
"grid":true,"gridColor":"#8f8f8f","gridDash":[8,5],"gridWidth":1.2,
"gridOpacity":{"condition":{"test":"datum.value % 200000 === 0 && datum.value > 0 && datum.value < 1000000","value":1},"value":0},
"title":"YEARS BEFORE PRESENT","titleFont":"Roboto","titleFontSize":36,"titleFontWeight":"bold","titleColor":"#111111",
"titleAlign":"center","titleBaseline":"alphabetic","titleX":712,"titleY":131}},
"y":{"field":"temp","type":"quantitative","scale":{"domain":[9,15.4],"nice":false,"zero":false},
"axis":{"orient":"left","values":[9,9.2,9.4,9.6,9.8,10,10.2,10.4,10.6,10.8,11,11.2,11.4,11.6,11.8,12,12.2,12.4,12.6,12.8,13,13.2,13.4,13.6,13.8,14,14.2,14.4,14.6,14.8,15,15.2,15.4],
"labelExpr":"datum.value % 1 === 0 ? format(datum.value, 'd') : ''","labelOverlap":false,"labelFlush":false,
"labelFont":"Lato","labelFontSize":38,"labelFontWeight":300,"labelColor":"#1c2230","labelPadding":33,
"tickSize":12,"tickColor":"#333333","tickWidth":1.5,"domainColor":"#333333","domainWidth":1.5,
"grid":true,"gridColor":"#8f8f8f","gridDash":[8,5],"gridWidth":1.2,
"gridOpacity":{"condition":{"test":"datum.value % 1 === 0 && datum.value > 9","value":1},"value":0},
"title":"ESTIMATED GLOBAL AVERAGE","titleFont":"Roboto","titleFontSize":37,"titleFontWeight":"bold","titleColor":"#111111",
"titleAngle":270,"titleAlign":"left","titleBaseline":"alphabetic","titleX":-176,"titleY":591}}
}
},
{
"data":{"name":"temp"},
"mark":{"type":"line","opacity":0},
"encoding":{
"x":{"field":"ybp","type":"quantitative","scale":{"domain":[0,1000000],"reverse":true,"nice":false,"zero":false},"axis":null},
"y":{"field":"temp","type":"quantitative","scale":{"domain":[9,15.4],"nice":false,"zero":false},
"axis":{"orient":"left","domain":false,"ticks":false,"labels":false,"grid":false,
"title":"Temperature (\u00b0C)","titleFont":"Roboto","titleFontSize":38,"titleFontWeight":"normal","titleColor":"#111111",
"titleAngle":270,"titleAlign":"left","titleBaseline":"alphabetic","titleX":-136,"titleY":494}}
}
},
{
"data":{"name":"temp"},
"mark":{"type":"line","opacity":0},
"encoding":{
"x":{"field":"ybp","type":"quantitative","scale":{"domain":[0,1000000],"reverse":true,"nice":false,"zero":false},"axis":null},
"y":{"field":"temp","type":"quantitative","scale":{"domain":[9,15.4],"nice":false,"zero":false},
"axis":{"orient":"left","domain":false,"ticks":false,"labels":false,"grid":false,
"title":"\u25a0","titleFont":"Roboto","titleFontSize":56,"titleFontWeight":"normal","titleColor":"#22496a",
"titleAngle":270,"titleAlign":"left","titleBaseline":"alphabetic","titleX":-129,"titleY":528}}
}
},
{
"data":{"name":"ad"},
"mark":{"type":"point","opacity":0},
"encoding":{
"x":{"field":"year","type":"quantitative","scale":{"domain":[200,2000],"range":[-86,1627],"nice":false,"zero":false},
"axis":{"orient":"top","offset":-942,"values":[200,400,600,800,1000,1200,1400,1465,1600,1800,2000],"labels":false,"grid":false,
"domain":true,"domainColor":"#3a3a3a","domainWidth":3,
"tickColor":{"condition":{"test":"datum.value === 1465","value":"#d6d6d6"},"value":"#333333"},
"tickWidth":{"condition":{"test":"datum.value === 1465","value":13},"value":1.6},
"tickSize":{"condition":{"test":"datum.value === 200 || datum.value === 2000 || datum.value === 1465","value":29},"value":16},
"title":"TEMPERATURE DATA: ZACHOS ET AL., 2001 TRANSFORMED AS IN HANSEN & SATO, 2012; CO2 DATA: LUTHI ET AL., 2008",
"titleFont":"Roboto","titleFontSize":17,"titleFontWeight":"bold","titleColor":"#222222",
"titleAlign":"right","titleBaseline":"alphabetic","titleX":1650,"titleY":-39}}
}
},
{
"data":{"name":"ad"},
"mark":{"type":"point","opacity":0},
"encoding":{
"x":{"field":"year","type":"quantitative","scale":{"domain":[200,2000],"range":[-86,1627],"nice":false,"zero":false},
"axis":{"orient":"bottom","offset":314,"values":[200,400,600,800,1000,1200,1400,1600,1800,2000],"format":"d","ticks":false,"grid":false,
"domain":true,"domainColor":"#a8a8a8","domainWidth":2.5,
"labelFont":"Liberation Sans, Arial, sans-serif","labelFontSize":27,"labelColor":"#333333","labelPadding":17,"labelFlush":false,"labelOverlap":false,
"title":"Year A.D.","titleFont":"Roboto","titleFontSize":36,"titleFontWeight":"normal","titleColor":"#333333",
"titleAlign":"center","titleBaseline":"alphabetic","titleX":679,"titleY":97}}
}
}
]
}
